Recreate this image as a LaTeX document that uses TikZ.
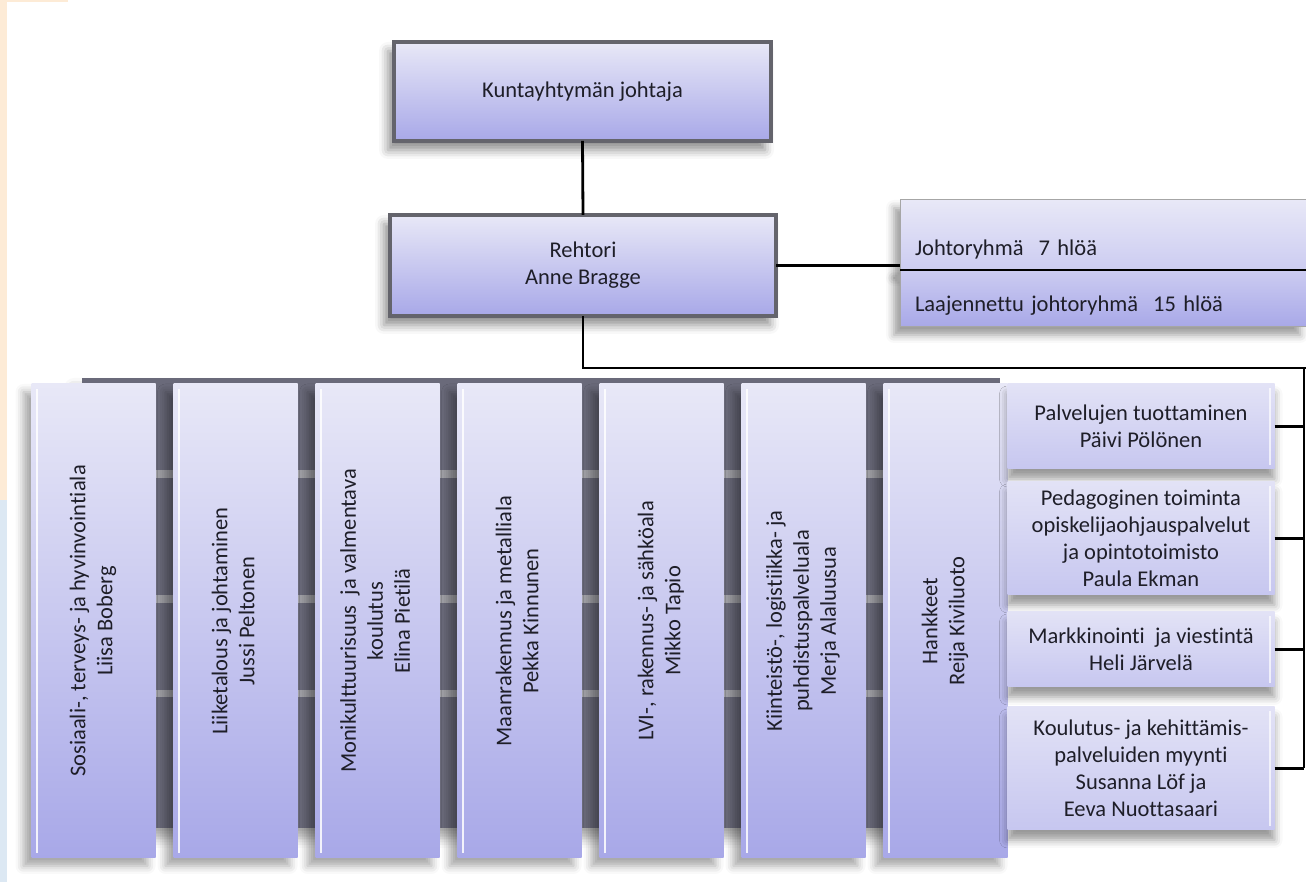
\documentclass[tikz,border=0pt]{standalone}
\usepackage{fontspec}
\setmainfont{Carlito}[Ligatures=NoCommon]
\usepackage{graphicx}
\usepackage{xcolor}
\definecolor{lavTop}{RGB}{232,232,247}
\definecolor{lavMid}{RGB}{204,204,241}
\definecolor{lavBot}{RGB}{168,168,232}
\definecolor{frameGray}{RGB}{100,100,108}
\definecolor{panelGray}{RGB}{106,106,122}
\definecolor{stripeGray}{RGB}{160,160,166}
\definecolor{inkText}{RGB}{30,30,40}
\definecolor{creamEdge}{RGB}{253,235,214}
\definecolor{blueEdge}{RGB}{220,232,243}
\usetikzlibrary{positioning, shadows.blur}
\newcommand{\vlabel}[1]{\rotatebox{90}{\begin{tabular}{@{}c@{}}#1\end{tabular}}}
\tikzset{
  orgtext/.style={font=\fontsize{22.5}{27}\selectfont, text=inkText, align=center, inner sep=0pt, outer sep=0pt},
  headbox/.style={orgtext, draw=frameGray, line width=4pt, top color=lavTop, bottom color=lavBot,
    blur shadow={shadow xshift=-6pt, shadow yshift=-9pt, shadow blur radius=9pt, shadow opacity=45}},
  groupbox/.style={orgtext, draw=gray!70, line width=1pt, minimum width=406pt, text width=376pt, inner xsep=15pt, align=left, text depth=4pt,
    blur shadow={shadow xshift=-6pt, shadow yshift=-8pt, shadow blur radius=8pt, shadow opacity=40}},
  unitcol/.style={orgtext, minimum width=124pt, minimum height=474pt, top color=lavTop, bottom color=lavBot,
    blur shadow={shadow xshift=-8pt, shadow yshift=-8pt, shadow blur radius=8pt, shadow opacity=35},
    path picture={\fill[white, opacity=0.85] ([xshift=4pt, yshift=-5pt]path picture bounding box.north west) rectangle ([xshift=6pt, yshift=5pt]path picture bounding box.south west);}},
  servicebox/.style={orgtext, minimum width=267pt, top color=lavTop!80!lavMid, bottom color=lavMid!85!lavBot,
    blur shadow={shadow xshift=0pt, shadow yshift=-10pt, shadow blur radius=8pt, shadow opacity=40},
    path picture={\fill[white, opacity=0.7] ([xshift=-6pt, yshift=-4pt]path picture bounding box.north east) rectangle ([xshift=-4pt, yshift=4pt]path picture bounding box.south east);}},
  link/.style={line width=2.8pt, black},
}

\begin{document}
\begin{tikzpicture}[x=1pt, y=1pt, node distance=18pt]
\useasboundingbox (0,0) rectangle (1306,882);
% page edges
\fill[creamEdge] (0,882) rectangle (7,382);
\fill[creamEdge] (0,882) rectangle (68,880);
\fill[blueEdge] (0,382) rectangle (7,0);

% management
\node[headbox, minimum width=377pt, minimum height=99pt] (top) at (582.5,790.5) {Kuntayhtymän johtaja};
\node[headbox, minimum width=386pt, minimum height=101pt] (reh) at (583,616.5) {Rehtori\\Anne Bragge};
\node[groupbox, top color=lavTop, bottom color=lavMid, minimum height=70pt, text height=46pt] (jr1) at (1103,647) {Johtoryhmä\ \ 7 hlöä};
\node[groupbox, top color=lavMid, bottom color=lavBot, minimum height=57pt, text height=31pt, below=0pt of jr1] (jr2) {Laajennettu johtoryhmä\ \ 15 hlöä};

% units
\path[fill=panelGray, blur shadow={shadow xshift=-8pt, shadow yshift=-10pt, shadow blur radius=10pt, shadow opacity=35}] (82,504) rectangle (1000,54);
\foreach \ya/\yb in {412/404, 287/279, 192/185}
  \fill[stripeGray] (82,\ya) rectangle (1000,\yb);
\node[unitcol] (c1) at (93.5,261) {\vlabel{Sosiaali-, terveys- ja hyvinvointiala\\Liisa Boberg}};
\node[unitcol, right=of c1] (c2) {\vlabel{Liiketalous ja johtaminen\\Jussi Peltonen}};
\node[unitcol, right=of c2] (c3) {\vlabel{Monikulttuurisuus\ \ ja valmentava\\koulutus\\Elina Pietilä}};
\node[unitcol, right=of c3] (c4) {\vlabel{Maanrakennus ja metalliala\\Pekka Kinnunen}};
\node[unitcol, right=of c4] (c5) {\vlabel{LVI-, rakennus- ja sähköala\\Mikko Tapio}};
\node[unitcol, right=of c5] (c6) {\vlabel{Kiinteistö-, logistiikka- ja\\puhdistuspalveluala\\Merja Alaluusua}};
\node[unitcol, right=of c6] (c7) {\vlabel{Hankkeet\\Reija Kiviluoto}};

% services
\node[servicebox, minimum height=85pt, anchor=north west] (ra) at (c7.north east) {Palvelujen tuottaminen\\Päivi Pölönen};
\node[servicebox, minimum height=113pt, below=13pt of ra] (rb) {Pedagoginen toiminta\\opiskelijaohjauspalvelut\\ja opintotoimisto\\Paula Ekman};
\node[servicebox, minimum height=75pt, below=17pt of rb] (rc) {Markkinointi\ \ ja viestintä\\Heli Järvelä};
\node[servicebox, minimum height=123pt, below=20pt of rc] (rd) {Koulutus- ja kehittämis-\\palveluiden myynti\\Susanna Löf ja\\Eeva Nuottasaari};

% links
\draw[link] (top.south) -- (reh.north);
\draw[link] (reh.east) -- (reh.east -| jr1.west);
\draw[link] (jr1.south west) -- (jr1.south east);
\coordinate (rail) at (1304,514);
\coordinate (railend) at (1306,514);
\draw[link] (reh.south) |- (railend);
\draw[link] (rail) -- (rail |- rd.east);
\foreach \s in {ra,rb,rc,rd}
  \draw[link] (\s.east) -- (\s.east -| rail);
\end{tikzpicture}
\end{document}
